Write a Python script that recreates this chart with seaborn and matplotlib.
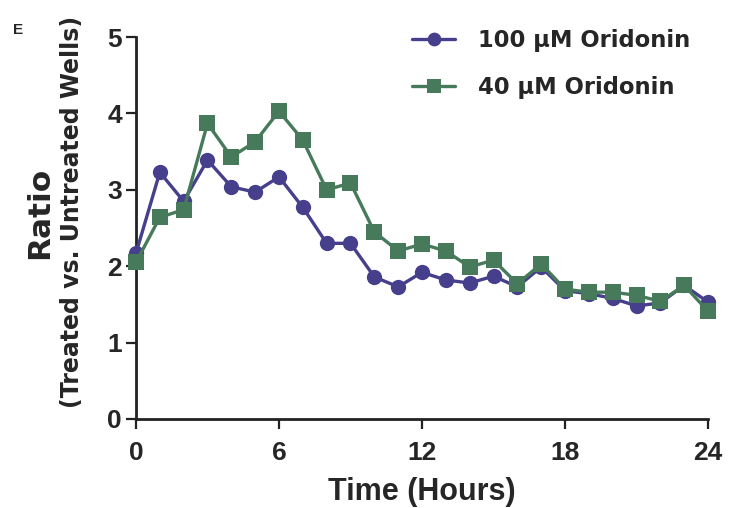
import numpy as np
import pandas as pd
import matplotlib
matplotlib.use("Agg")
import matplotlib.pyplot as plt
import seaborn as sns

hours = list(range(0, 25))
oridonin_100 = [2.17, 3.23, 2.85, 3.39, 3.04, 2.97, 3.17, 2.77, 2.30, 2.30,
                1.86, 1.73, 1.92, 1.82, 1.78, 1.87, 1.73, 1.99, 1.68, 1.64,
                1.58, 1.48, 1.52, 1.75, 1.53]
oridonin_40 = [2.05, 2.64, 2.74, 3.87, 3.43, 3.63, 4.03, 3.65, 3.00, 3.09,
               2.45, 2.20, 2.29, 2.20, 1.99, 2.08, 1.77, 2.03, 1.70, 1.66,
               1.66, 1.62, 1.54, 1.75, 1.41]
series_names = ["100 \u03bcM Oridonin", "40 \u03bcM Oridonin"]
x_ticks = [0, 6, 12, 18, 24]
y_ticks = [0, 1, 2, 3, 4, 5]

df = pd.DataFrame({
    "Time": hours * 2,
    "Ratio": oridonin_100 + oridonin_40,
    "Series": [series_names[0]] * len(hours) + [series_names[1]] * len(hours),
})

sns.set_style("ticks")
plt.rcParams["font.family"] = ["Liberation Sans", "DejaVu Sans"]

fig = plt.figure(figsize=(7.37, 5.08), dpi=100)
ax = fig.add_axes([0.1845, 0.1752, 0.7762, 0.7518])

colors = {series_names[0]: "#463f8c", series_names[1]: "#467a5a"}
markers = {series_names[0]: "o", series_names[1]: "s"}
sns.lineplot(data=df, x="Time", y="Ratio", hue="Series", style="Series",
             palette=colors, markers=markers, dashes=False, ax=ax,
             linewidth=2.4, markersize=11, markeredgewidth=0, clip_on=False,
             zorder=3)

ax.set_xlim(0, 24)
ax.set_ylim(0, 5)
ax.set_xticks(x_ticks)
ax.set_yticks(y_ticks)
ax.set_xticklabels([str(t) for t in x_ticks], fontsize=19, fontweight="bold")
ax.set_yticklabels([str(t) for t in y_ticks], fontsize=19, fontweight="bold")
ax.tick_params(axis="both", direction="out", length=7.5, width=1.6, color="#222222")
ax.tick_params(axis="x", pad=8)
ax.tick_params(axis="y", pad=2.5)

for s in ["top", "right"]:
    ax.spines[s].set_visible(False)
for s in ["left", "bottom"]:
    ax.spines[s].set_linewidth(2.0)
    ax.spines[s].set_color("#222222")

ax.set_xlabel("Time (Hours)", fontsize=22, fontweight="bold", labelpad=9)

# y label: two lines of different size
ax.set_ylabel("(Treated vs. Untreated Wells)", fontsize=17, fontweight="bold",
              family=["DejaVu Sans"])
ax.yaxis.set_label_coords((84 - 136) / 572, (419 - 212) / 382)
ax.text((40 - 136) / 572, (419 - 213) / 382, "Ratio", transform=ax.transAxes,
        rotation=90, ha="center", va="center", rotation_mode="anchor",
        fontsize=22.5, fontweight="bold", family=["DejaVu Sans"])

leg = ax.legend(loc="upper left", bbox_to_anchor=(412 / 737, 1 - 29 / 508),
                bbox_transform=fig.transFigure, frameon=False,
                borderpad=0, borderaxespad=0, markerscale=0.9,
                handlelength=1.9, handletextpad=1.0, labelspacing=1.05,
                prop={"family": ["DejaVu Sans"], "weight": "bold", "size": 16.3})

fig.text(13 / 737, 1 - 34 / 508, "E", fontsize=11, fontweight="bold")

fig.savefig("out.png", dpi=100)
